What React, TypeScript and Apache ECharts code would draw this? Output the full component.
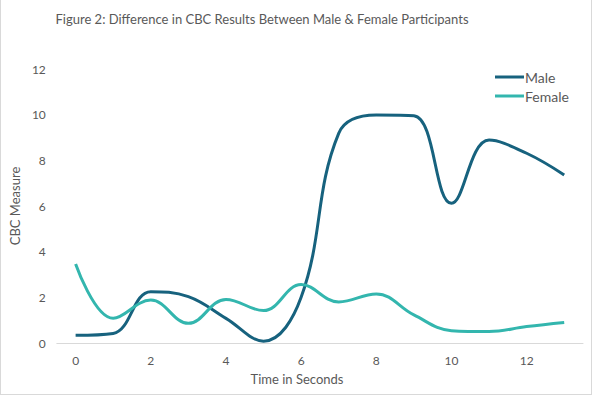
import React, { useEffect, useRef } from "react";
import * as echarts from "echarts";

const categories = ["0", "1", "2", "3", "4", "5", "6", "7", "8", "9", "10", "11", "12", "13"];
const maleValues = [0.34, 0.42, 2.25, 2.03, 1.08, 0.08, 2.0, 9.18, 9.98, 9.95, 6.12, 8.89, 8.31, 7.36];
const femaleValues = [3.46, 1.08, 1.88, 0.86, 1.91, 1.42, 2.56, 1.8, 2.15, 1.23, 0.54, 0.5, 0.72, 0.9];
const titleText = "Figure 2: Difference in CBC Results Between Male & Female Participants";

const FONT = "Lato";
const TEXT_COLOR = "#595959";

export default function App() {
  const ref = useRef<HTMLDivElement>(null);
  useEffect(() => {
    document.body.style.margin = "0";
    const chart = echarts.init(ref.current!, null, { renderer: "svg" });
    chart.setOption({
      animation: false,
      backgroundColor: "#ffffff",
      textStyle: { fontFamily: FONT },
      graphic: [
        { type: "line", shape: { x1: 0.5, y1: 0, x2: 0.5, y2: 395 }, style: { stroke: "#d9d9d9", lineWidth: 1 } },
        { type: "line", shape: { x1: 591.5, y1: 0, x2: 591.5, y2: 395 }, style: { stroke: "#d9d9d9", lineWidth: 1 } },
        { type: "line", shape: { x1: 0, y1: 394.5, x2: 592, y2: 394.5 }, style: { stroke: "#d9d9d9", lineWidth: 1 } },
        {
          type: "text",
          x: 262,
          y: 19,
          style: { text: titleText, fill: TEXT_COLOR, font: `13px ${FONT}`, align: "center", verticalAlign: "middle" },
        },
        {
          type: "text",
          x: 297,
          y: 379,
          style: { text: "Time in Seconds", fill: TEXT_COLOR, font: `13px ${FONT}`, align: "center", verticalAlign: "middle" },
        },
      ],
      legend: {
        orient: "vertical",
        left: 490,
        top: 65,
        icon: "rect",
        itemWidth: 29,
        itemHeight: 3,
        itemGap: 5,
        textStyle: { fontFamily: FONT, fontSize: 14, color: TEXT_COLOR, padding: [0, 0, 0, -4] },
        data: ["Male", "Female"],
      },
      grid: { left: 53, right: 10, top: 69, bottom: 53, containLabel: false },
      xAxis: {
        type: "category",
        data: categories,
        boundaryGap: true,
        axisLine: { lineStyle: { color: "#d9d9d9", width: 1 } },
        axisTick: { show: false },
        axisLabel: { interval: 1, color: TEXT_COLOR, fontSize: 12, fontFamily: FONT, margin: 11 },
      },
      yAxis: {
        type: "value",
        min: 0,
        max: 12,
        interval: 2,
        name: "CBC Measure",
        nameLocation: "middle",
        nameGap: 33,
        nameTextStyle: { color: TEXT_COLOR, fontSize: 13, fontFamily: FONT },
        splitLine: { show: false },
        axisLine: { show: false },
        axisTick: { show: false },
        axisLabel: { color: TEXT_COLOR, fontSize: 12, fontFamily: FONT, margin: 11 },
      },
      series: [
        {
          name: "Male",
          type: "line",
          data: maleValues,
          smooth: 0.4,
          showSymbol: false,
          symbol: "none",
          lineStyle: { color: "#17627e", width: 3 },
          itemStyle: { color: "#17627e" },
        },
        {
          name: "Female",
          type: "line",
          data: femaleValues,
          smooth: 0.4,
          showSymbol: false,
          symbol: "none",
          lineStyle: { color: "#33b6ae", width: 3 },
          itemStyle: { color: "#33b6ae" },
        },
      ],
    });
    return () => chart.dispose();
  }, []);
  return <div ref={ref} style={{ width: 593, height: 396 }} />;
}
